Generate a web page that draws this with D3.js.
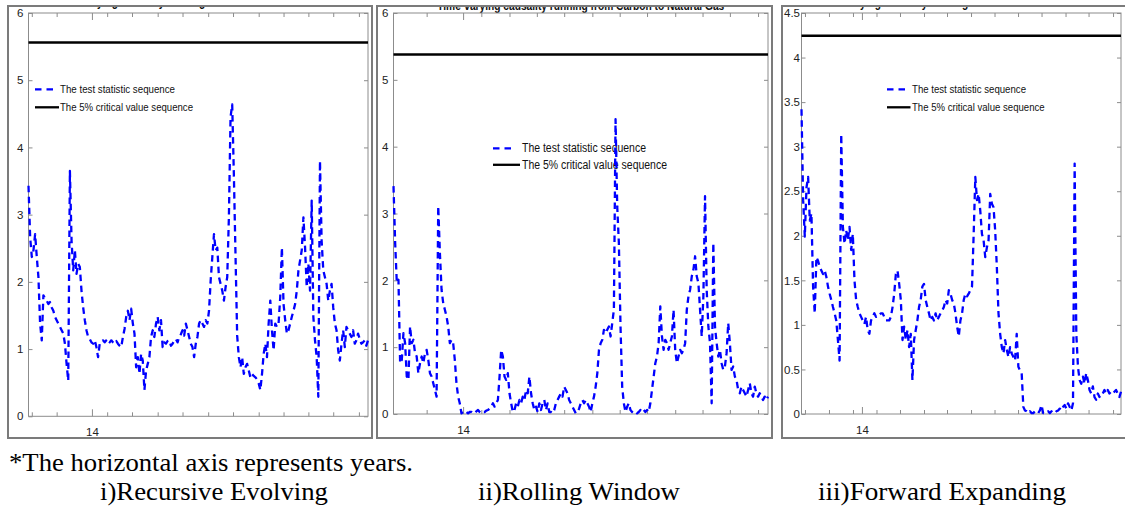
<!DOCTYPE html>
<html>
<head>
<meta charset="utf-8">
<script src="https://cdn.jsdelivr.net/npm/d3@7"></script>
<style>
  html, body { margin: 0; padding: 0; background: #fff; }
  svg { display: block; }
</style>
</head>
<body>
<svg id="chart" width="1125" height="508"></svg>
<script>
// ---- Test statistic sequences (one value per observation) ----
const recursiveEvolving = [
  3.43,2.66,2.37,2.47,2.71,2.37,2.07,1.38,1.13,1.80,
  1.75,1.72,1.67,1.70,1.62,1.57,1.48,1.43,1.38,1.33,
  1.28,1.23,1.08,0.78,0.53,3.65,2.61,2.17,2.47,2.12,
  2.27,2.22,1.87,1.62,1.43,1.28,1.18,1.15,1.10,1.08,
  1.13,1.03,0.88,1.08,1.10,1.13,1.10,1.13,1.15,1.10,
  1.13,1.10,1.08,1.12,1.08,1.05,1.03,1.18,1.30,1.48,
  1.57,1.43,1.60,1.38,1.23,0.73,0.88,0.63,0.93,0.83,
  0.39,0.68,0.78,0.88,1.18,1.28,1.18,1.38,1.48,1.28,
  1.43,1.03,1.10,1.08,1.12,1.13,1.05,1.08,1.12,1.15,
  1.10,1.18,1.22,1.28,1.20,1.38,1.28,1.18,1.08,1.03,
  0.88,1.08,1.18,1.38,1.43,1.38,1.33,1.43,1.38,1.57,
  2.02,2.37,2.71,2.47,2.51,2.07,1.97,1.87,1.72,1.92,
  2.07,2.96,4.45,4.64,3.60,2.40,1.20,0.88,0.73,0.88,
  0.63,0.73,0.78,0.68,0.58,0.63,0.60,0.58,0.55,0.49,
  0.39,0.63,0.93,1.08,0.88,1.38,1.72,1.28,0.98,1.38,
  1.33,1.38,1.77,2.51,1.67,1.43,1.23,1.28,1.38,1.48,
  1.57,1.67,1.87,2.17,2.32,2.47,2.96,2.51,1.92,2.27,
  1.87,3.21,1.48,1.13,0.88,0.29,3.80,2.61,2.17,2.07,
  1.97,1.72,1.87,1.97,1.62,1.38,1.28,0.98,0.83,1.08,
  1.28,1.03,1.33,1.28,1.23,1.18,1.28,1.08,1.13,1.23,
  1.15,1.08,1.10,1.13,1.05,1.13
];

const rollingWindow = [
  3.41,2.56,1.96,2.01,0.76,0.81,1.21,1.06,0.56,0.51,
  1.31,1.06,1.11,0.91,0.86,0.61,0.76,0.86,0.76,0.91,
  0.96,0.81,0.61,0.56,0.46,0.36,0.26,3.11,2.41,1.86,
  1.66,1.56,1.46,1.31,1.06,1.11,1.06,0.81,0.46,0.26,
  0.16,0.01,0.03,0.01,0.03,0.01,0.03,0.03,0.01,0.01,
  0.04,0.06,0.03,0.01,0.03,0.03,0.05,0.06,0.08,0.11,
  0.16,0.11,0.16,0.21,0.56,0.96,0.86,0.56,0.51,0.61,
  0.31,0.16,0.03,0.06,0.16,0.11,0.21,0.16,0.26,0.21,
  0.36,0.31,0.56,0.31,0.16,0.06,0.11,0.03,0.16,0.06,
  0.16,0.21,0.06,0.16,0.03,0.03,0.01,0.06,0.16,0.21,
  0.26,0.31,0.26,0.41,0.36,0.31,0.21,0.16,0.11,0.06,
  0.01,0.03,0.08,0.16,0.21,0.16,0.21,0.16,0.11,0.03,
  0.16,0.26,0.41,0.61,0.96,1.06,1.11,1.26,1.21,1.26,
  1.31,1.16,1.36,1.56,4.41,3.11,2.56,1.31,0.41,0.16,
  0.03,0.11,0.16,0.06,0.03,0.01,0.03,0.01,0.03,0.06,
  0.03,0.06,0.03,0.06,0.03,0.16,0.36,0.56,0.76,0.86,
  1.06,1.61,1.16,0.96,1.11,1.06,0.96,1.06,1.16,1.56,
  0.96,0.76,0.86,0.96,0.91,0.96,1.06,1.56,1.76,1.86,
  2.06,2.16,2.36,2.06,1.96,1.56,1.16,1.76,3.26,1.86,
  1.31,1.06,0.16,2.56,1.31,1.06,0.86,0.96,0.76,0.66,
  0.71,0.91,1.36,1.06,0.66,0.71,0.56,0.51,0.36,0.31,
  0.41,0.36,0.31,0.26,0.36,0.46,0.31,0.26,0.41,0.31,
  0.26,0.31,0.26,0.21,0.26,0.21,0.26
];

const forwardExpanding = [
  3.42,2.40,1.99,2.54,2.66,2.17,2.25,1.43,1.13,1.76,
  1.72,1.65,1.61,1.57,1.61,1.54,1.43,1.35,1.28,1.20,
  1.13,1.05,0.83,0.60,3.14,2.10,1.91,2.06,1.95,2.10,
  1.84,2.02,1.50,1.28,1.20,1.13,1.09,1.05,1.01,1.09,
  0.94,0.90,1.05,1.09,1.13,1.09,1.11,1.11,1.13,1.13,
  1.09,1.05,1.05,1.05,1.09,1.20,1.35,1.57,1.61,1.46,
  1.28,0.83,0.98,0.83,0.94,0.75,0.90,0.38,0.83,0.94,
  1.05,1.20,1.28,1.43,1.46,1.28,1.20,1.13,1.05,1.09,
  1.05,1.13,1.05,1.09,1.13,1.16,1.20,1.28,1.24,1.39,
  1.35,1.28,1.24,1.13,0.98,0.87,1.05,1.13,1.28,1.35,
  1.32,1.35,1.39,1.43,2.02,2.66,2.40,2.47,2.28,2.02,
  1.95,1.76,1.87,1.95,2.47,2.36,2.32,2.06,1.65,1.13,
  0.90,0.75,0.68,0.83,0.72,0.64,0.75,0.68,0.64,0.60,
  0.90,0.53,0.49,0.46,0.08,0.04,0.03,0.01,0.03,0.01,
  0.01,0.03,0.01,0.01,0.04,0.10,0.01,0.01,0.01,0.03,
  0.01,0.03,0.01,0.01,0.03,0.04,0.06,0.04,0.08,0.10,
  0.06,0.12,0.08,0.04,0.12,2.81,0.90,0.53,0.38,0.34,
  0.42,0.34,0.46,0.38,0.27,0.23,0.31,0.19,0.16,0.23,
  0.19,0.23,0.23,0.27,0.23,0.27,0.23,0.25,0.23,0.25,
  0.27,0.23,0.19,0.25
];

// ---- 5% critical values (constant over the sample) ----
const criticalValues = [5.56, 5.38, 4.245];

// ---- Axis ticks ----
const yTicksSix = [0, 1, 2, 3, 4, 5, 6];
const yTicksHalf = [0, 0.5, 1, 1.5, 2, 2.5, 3, 3.5, 4, 4.5];
const minorTicksRE = [2, 17, 47.5, 62.5, 78, 93, 108.5, 123.5, 139, 154, 169, 184, 199.5];
const minorTicksRW = [20, 53, 70, 86.5, 103, 120, 136.5, 153, 170, 186.5, 203, 220];
const minorTicksFE = [2.1, 16.6, 31.1, 45.3, 59.5, 74, 87.9, 102.4, 116.6, 130.8, 145, 159.5, 173.4, 188.2];
const yearTicks = [38.3, 42, 36.5];
const yearLabel = "14";

// ---- Text ----
const titleText = "Time-varying causality running from Carbon to Natural Gas";
const legendLabels = ["The test statistic sequence", "The 5% critical value sequence"];
const captions = ["i)Recursive Evolving", "ii)Rolling Window", "iii)Forward Expanding"];
const noteText = "*The horizontal axis represents years.";

// ---- Layout ----
const BLUE = "#0000ff";
const AXIS_GRAY = "#8c8c8c";
const SANS = "'Liberation Sans Narrow', 'Liberation Sans', Arial, sans-serif";
const SERIF = "'Liberation Serif', 'Times New Roman', serif";

const panels = [
  {
    values: recursiveEvolving, crit: criticalValues[0], yMax: 6, yTicks: yTicksSix,
    minor: minorTicksRE, year: yearTicks[0],
    frame: { x0: 8, y0: 6, x1: 372, y1: 438 },
    plot: { x0: 28.5, x1: 368, y0: 13, y1: 416.3 },
    labelGap: 5, titleY: 5.5,
    legend: { x: 35, y: 89.3, lineLen: [18.5, 24], textX: 60, widths: [115, 133], gap: 18, size: 11.5 }
  },
  {
    values: rollingWindow, crit: criticalValues[1], yMax: 6, yTicks: yTicksSix,
    minor: minorTicksRW, year: yearTicks[1],
    frame: { x0: 377, y0: 6, x1: 772, y1: 438 },
    plot: { x0: 393.5, x1: 768, y0: 13, y1: 414 },
    labelGap: 5, titleY: 9.5,
    legend: { x: 493, y: 148.3, lineLen: [20, 27], textX: 522, widths: [124, 145], gap: 16.5, size: 12.5 }
  },
  {
    values: forwardExpanding, crit: criticalValues[2], yMax: 4.5, yTicks: yTicksHalf,
    minor: minorTicksFE, year: yearTicks[2],
    frame: { x0: 782, y0: 6, x1: 1130, y1: 438 },
    plot: { x0: 801.5, x1: 1121, y0: 13, y1: 414 },
    labelGap: 1.5, titleY: 6.5,
    legend: { x: 887, y: 89.3, lineLen: [20, 23.5], textX: 912, widths: [114, 132.6], gap: 18, size: 11.5 }
  }
];

const svg = d3.select("#chart");
svg.append("rect").attr("width", 1125).attr("height", 508).attr("fill", "#fff");

panels.forEach((p, k) => {
  const g = svg.append("g").attr("class", "panel panel-" + k);
  const clipId = "clip-panel-" + k;
  g.append("clipPath").attr("id", clipId)
    .append("rect")
    .attr("x", p.frame.x0 + 1).attr("y", p.frame.y0 + 1)
    .attr("width", p.frame.x1 - p.frame.x0 - 2).attr("height", p.frame.y1 - p.frame.y0 - 2);

  const inner = g.append("g").attr("clip-path", `url(#${clipId})`);

  const x = d3.scaleLinear().domain([0, p.values.length - 1]).range([p.plot.x0, p.plot.x1]);
  const y = d3.scaleLinear().domain([0, p.yMax]).range([p.plot.y1, p.plot.y0]);

  // Title (clipped at the top of the frame)
  inner.append("text")
    .attr("x", (p.plot.x0 + p.plot.x1) / 2).attr("y", p.titleY)
    .attr("text-anchor", "middle")
    .attr("font-family", SANS).attr("font-weight", "bold").attr("font-size", 12.5)
    .attr("textLength", 287).attr("lengthAdjust", "spacingAndGlyphs")
    .attr("fill", "#111")
    .text(titleText);

  // Plot box
  inner.append("rect")
    .attr("x", p.plot.x0).attr("y", p.plot.y0)
    .attr("width", p.plot.x1 - p.plot.x0).attr("height", p.plot.y1 - p.plot.y0)
    .attr("fill", "none").attr("stroke", AXIS_GRAY).attr("stroke-width", 1);

  // Ticks: inward on all four sides
  const tickStyle = sel => {
    sel.select(".domain").remove();
    sel.selectAll(".tick line").attr("stroke", AXIS_GRAY).attr("stroke-width", 1);
  };
  inner.append("g").attr("transform", `translate(0,${p.plot.y1})`)
    .call(d3.axisBottom(x).tickValues(p.minor).tickSize(-4).tickFormat(""))
    .call(tickStyle);
  inner.append("g").attr("transform", `translate(0,${p.plot.y0})`)
    .call(d3.axisTop(x).tickValues(p.minor).tickSize(-4).tickFormat(""))
    .call(tickStyle);
  inner.append("g").attr("transform", `translate(0,${p.plot.y1})`)
    .call(d3.axisBottom(x).tickValues([p.year]).tickSize(-7).tickPadding(12).tickFormat(() => yearLabel))
    .call(tickStyle)
    .call(a => a.selectAll("text").attr("font-family", SANS).attr("font-size", 11.5).attr("fill", "#222"));
  inner.append("g").attr("transform", `translate(0,${p.plot.y0})`)
    .call(d3.axisTop(x).tickValues([p.year]).tickSize(-7).tickFormat(""))
    .call(tickStyle);

  inner.append("g").attr("transform", `translate(${p.plot.x0},0)`)
    .call(d3.axisLeft(y).tickValues(p.yTicks).tickSize(-4).tickPadding(p.labelGap).tickFormat(d3.format("~g")))
    .call(tickStyle)
    .call(a => a.selectAll("text").attr("font-family", SANS).attr("font-size", 11.5).attr("fill", "#222"));
  inner.append("g").attr("transform", `translate(${p.plot.x1},0)`)
    .call(d3.axisRight(y).tickValues(p.yTicks).tickSize(-4).tickFormat(""))
    .call(tickStyle);

  // Legend (no box)
  const L = p.legend;
  const lg = inner.append("g").attr("class", "legend");
  lg.append("line")
    .attr("x1", L.x).attr("x2", L.x + L.lineLen[0]).attr("y1", L.y).attr("y2", L.y)
    .attr("stroke", BLUE).attr("stroke-width", 2.3).attr("stroke-dasharray", "6.5,5");
  lg.append("line")
    .attr("x1", L.x).attr("x2", L.x + L.lineLen[1]).attr("y1", L.y + L.gap).attr("y2", L.y + L.gap)
    .attr("stroke", "#000").attr("stroke-width", 2.3);
  legendLabels.forEach((t, i) => {
    lg.append("text")
      .attr("x", L.textX).attr("y", L.y + i * L.gap + 3.8)
      .attr("font-family", SANS).attr("font-size", L.size).attr("fill", "#111")
      .attr("textLength", L.widths[i]).attr("lengthAdjust", "spacingAndGlyphs")
      .text(t);
  });

  // Series
  const plotClip = "clip-plot-" + k;
  g.append("clipPath").attr("id", plotClip)
    .append("rect")
    .attr("x", p.plot.x0 - 2).attr("y", p.plot.y0)
    .attr("width", p.plot.x1 - p.plot.x0 + 4).attr("height", p.plot.y1 - p.plot.y0 + 2);

  const line = d3.line().x((d, i) => x(i)).y(d => y(d));
  inner.append("g").attr("clip-path", `url(#${plotClip})`)
    .append("path")
    .datum(p.values)
    .attr("d", line)
    .attr("fill", "none").attr("stroke", BLUE).attr("stroke-width", 2.3)
    .attr("stroke-dasharray", "6.5,4.5").attr("stroke-linejoin", "round");

  const critLine = d3.line().x(d => x(d[0])).y(d => y(d[1]));
  inner.append("path")
    .datum([[0, p.crit], [p.values.length - 1, p.crit]])
    .attr("d", critLine)
    .attr("fill", "none").attr("stroke", "#000").attr("stroke-width", 2.5);

  // Outer frame
  g.append("rect")
    .attr("x", p.frame.x0).attr("y", p.frame.y0)
    .attr("width", p.frame.x1 - p.frame.x0).attr("height", p.frame.y1 - p.frame.y0)
    .attr("fill", "none").attr("stroke", "#7b7b7b").attr("stroke-width", 2);
});

// Footnote and captions
svg.append("text")
  .attr("x", 9).attr("y", 471)
  .attr("font-family", SERIF).attr("font-size", 26).attr("fill", "#000")
  .attr("textLength", 404).attr("lengthAdjust", "spacingAndGlyphs")
  .text(noteText);

const captionX = [100, 478, 818];
const captionW = [228, 202, 248];
captions.forEach((c, i) => {
  svg.append("text")
    .attr("x", captionX[i]).attr("y", 500)
    .attr("font-family", SERIF).attr("font-size", 26).attr("fill", "#000")
    .attr("textLength", captionW[i]).attr("lengthAdjust", "spacingAndGlyphs")
    .text(c);
});
</script>
</body>
</html>
